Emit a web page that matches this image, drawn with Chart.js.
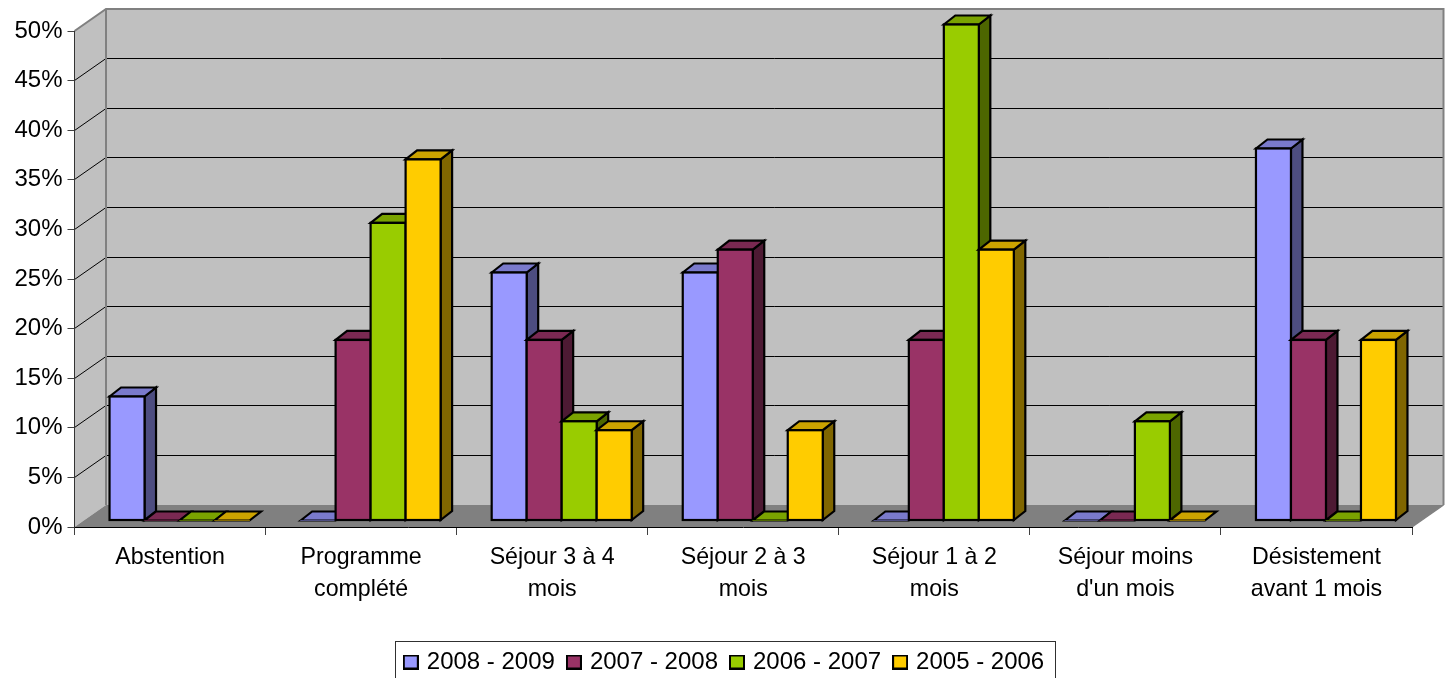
<!DOCTYPE html>
<html><head><meta charset="utf-8">
<style>html,body{margin:0;padding:0;background:#fff;overflow:hidden}canvas{display:block}</style>
<script src="https://cdn.jsdelivr.net/npm/chart.js@4"></script>
</head><body><canvas id="c" width="1445" height="678"></canvas>
<script>
const categories = [['Abstention'],['Programme','complété'],['Séjour 3 à 4','mois'],['Séjour 2 à 3','mois'],['Séjour 1 à 2','mois'],['Séjour moins',"d'un mois"],['Désistement','avant 1 mois']];
const seriesNames = ['2008 - 2009','2007 - 2008','2006 - 2007','2005 - 2006'];
const values2008 = [12.5,0,25,25,0,0,37.5];
const values2007 = [0,18.2,18.2,27.3,18.2,0,18.2];
const values2006 = [0,30,10,0,50,10,0];
const values2005 = [0,36.4,9.1,9.1,27.3,0,18.2];
const frontColors = ['#9999FF','#993366','#99CC00','#FFCC00'];
const topColors = ['#7A7ACC','#7A2952','#7AA300','#CCA300'];
const sideColors = ['#4D4D80','#4D1A33','#4D6600','#806600'];

const WALL_DX = 31.5, WALL_DY = -22;
const BAR_DX = 9.5, BAR_DY = -6.5;
const DEPTH_DX = 11.5, DEPTH_DY = -9;
const LEGEND_SHIFT = 19.5, LEGEND_TOP = 635;

function poly(ctx, pts, fill, stroke, lw){
  ctx.beginPath();
  pts.forEach((p,i)=> i ? ctx.lineTo(p[0],p[1]) : ctx.moveTo(p[0],p[1]));
  ctx.closePath();
  if(fill){ctx.fillStyle=fill;ctx.fill();}
  if(stroke){ctx.strokeStyle=stroke;ctx.lineWidth=lw;ctx.lineJoin='miter';ctx.stroke();}
}
function legendSwatch(color){
  const c=document.createElement('canvas');
  c.width=16;c.height=15;
  const g=c.getContext('2d');
  g.fillStyle=color;g.fillRect(1,1,14,13);
  g.strokeStyle='#000';g.lineWidth=2;g.strokeRect(1,1,14,13);
  return c;
}
const box3d = {
  id:'box3d',
  afterLayout(chart){
    const lg = chart.legend;
    lg.top = LEGEND_TOP;
    lg.bottom = lg.top + lg.height;
    lg.left += LEGEND_SHIFT;
    lg.right += LEGEND_SHIFT;
  },
  beforeDraw(chart){
    const {ctx,scales:{x,y}} = chart;
    const L=x.left,R=x.right,T=y.top,B=y.bottom;
    const dx=WALL_DX,dy=WALL_DY;
    ctx.save();
    ctx.fillStyle='#fff';ctx.fillRect(0,0,chart.width,chart.height);
    poly(ctx,[[L,T],[L+dx,T+dy],[L+dx,B+dy],[L,B]],'#C0C0C0');
    poly(ctx,[[L+dx,T+dy],[R+dx,T+dy],[R+dx,B+dy],[L+dx,B+dy]],'#C0C0C0');
    poly(ctx,[[L,B],[L+dx,B+dy],[R+dx,B+dy],[R,B]],'#808080');
    ctx.strokeStyle='#000';ctx.lineWidth=1;
    y.ticks.forEach((t,i)=>{
      const p=Math.floor(y.getPixelForTick(i))+.5;
      if(t.value===0||t.value===50) return;
      ctx.beginPath();ctx.moveTo(L,p);ctx.lineTo(L+dx,p+dy);ctx.lineTo(R+dx,p+dy);ctx.stroke();
    });
    ctx.strokeStyle='#808080';ctx.lineWidth=2;
    ctx.beginPath();ctx.moveTo(L,T);ctx.lineTo(L+dx,T+dy);ctx.lineTo(R+dx,T+dy);ctx.lineTo(R+dx,B+dy);ctx.stroke();
    ctx.beginPath();ctx.moveTo(L+dx,T+dy);ctx.lineTo(L+dx,B+dy);ctx.stroke();
    ctx.lineWidth=1.5;
    ctx.beginPath();ctx.moveTo(R,B);ctx.lineTo(R+dx,B+dy);ctx.stroke();
    ctx.restore();
    ctx.save();ctx.strokeStyle='#303030';ctx.lineWidth=1;
    ctx.strokeRect(395.5,641.5,660,37);
    ctx.restore();
  },
  beforeDatasetsDraw(chart){
    const ctx=chart.ctx;
    ctx.save();
    ctx.translate(BAR_DX,BAR_DY);
    chart.data.datasets.forEach((ds,i)=>{
      const meta=chart.getDatasetMeta(i);
      meta.data.forEach(b=>{
        const xl=b.x-b.width/2,xr=b.x+b.width/2,yt=b.y,yb=b.base;
        if(yb-yt>0.5) poly(ctx,[[xr,yt],[xr+DEPTH_DX,yt+DEPTH_DY],[xr+DEPTH_DX,yb+DEPTH_DY],[xr,yb]],sideColors[i],'#000',2.2);
        poly(ctx,[[xl,yt],[xl+DEPTH_DX,yt+DEPTH_DY],[xr+DEPTH_DX,yt+DEPTH_DY],[xr,yt]],topColors[i],'#000',2.2);
      });
      meta.controller.draw();
      ctx.strokeStyle='#000';ctx.lineWidth=2.2;
      meta.data.forEach(b=>{
        if(b.base-b.y>0.5) ctx.strokeRect(b.x-b.width/2,b.y,b.width,b.base-b.y);
      });
    });
    ctx.restore();
    return false;
  }
};

const fontFamily = '"Liberation Sans", Arial, sans-serif';
new Chart(document.getElementById('c'),{
  type:'bar',
  data:{labels:categories,datasets:[
    {label:seriesNames[0],data:values2008,backgroundColor:frontColors[0]},
    {label:seriesNames[1],data:values2007,backgroundColor:frontColors[1]},
    {label:seriesNames[2],data:values2006,backgroundColor:frontColors[2]},
    {label:seriesNames[3],data:values2005,backgroundColor:frontColors[3]}
  ]},
  plugins:[box3d],
  options:{
    responsive:false,animation:false,devicePixelRatio:1,
    barThickness:35,borderWidth:0,
    layout:{padding:{top:31,right:33,left:0,bottom:0}},
    plugins:{
      tooltip:{enabled:false},title:{display:false},
      legend:{position:'bottom',align:'center',labels:{
        usePointStyle:true,boxWidth:8,boxHeight:15,padding:15,color:'#000',
        font:{family:fontFamily,size:24},
        generateLabels(chart){
          return Chart.defaults.plugins.legend.labels.generateLabels(chart).map((it,i)=>({...it,pointStyle:legendSwatch(frontColors[i])}));
        }
      }}
    },
    scales:{
      x:{
        afterFit(s){s.height=102;},
        grid:{drawOnChartArea:false,drawTicks:true,tickLength:8,color:'#404040',offset:true},
        border:{display:true,color:'#000',width:1},
        ticks:{autoSkip:false,maxRotation:0,color:'#000',padding:6,font:{family:fontFamily,size:23.2,lineHeight:1.4}}
      },
      y:{
        min:0,max:50,
        afterFit(s){s.width=74.5;},
        grid:{drawOnChartArea:false,drawTicks:true,tickLength:7,color:'#404040'},
        border:{display:true,color:'#333',width:1},
        ticks:{stepSize:5,autoSkip:false,color:'#000',padding:5,font:{family:fontFamily,size:24},callback:v=>v+'%'}
      }
    }
  }
});
</script></body></html>
